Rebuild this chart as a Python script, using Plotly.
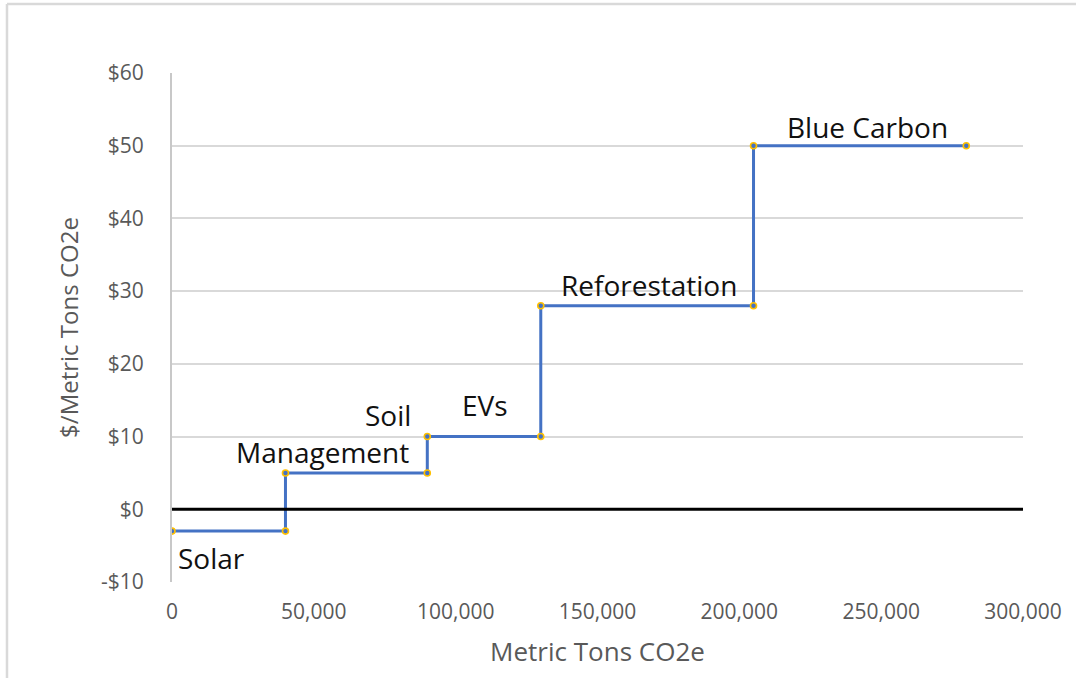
import plotly.graph_objects as go

# Step points of the marginal abatement cost curve
tons = [0, 40000, 40000, 90000, 90000, 130000, 130000, 205000, 205000, 280000]
cost = [-3, -3, 5, 5, 10, 10, 28, 28, 50, 50]

label_text = ["Solar", "Management", "Soil", "EVs", "Reforestation", "Blue Carbon"]
label_x = [14000, 52900, 76000, 110500, 168000, 245300]
label_y = [-6.7, 7.9, 13.0, 14.4, 30.8, 52.6]

y_ticks = [-10, 0, 10, 20, 30, 40, 50, 60]
y_tick_text = ["-$10", "$0", "$10", "$20", "$30", "$40", "$50", "$60"]
x_ticks = [0, 50000, 100000, 150000, 200000, 250000, 300000]
x_tick_text = ["0", "50,000", "100,000", "150,000", "200,000", "250,000", "300,000"]

FONT = "Open Sans"
GREY = "#595959"

fig = go.Figure()
fig.add_trace(go.Scatter(
    x=tons, y=cost, mode="lines+markers",
    line=dict(color="#4472C4", width=3),
    marker=dict(size=6, color="#4472C4", line=dict(color="#FFC000", width=1.6)),
    showlegend=False, hoverinfo="skip",
))

for t, x, y in zip(label_text, label_x, label_y):
    fig.add_annotation(x=x, y=y, text=t, showarrow=False,
                       font=dict(family=FONT, size=28, color="#111111"),
                       xanchor="center", yanchor="middle")

# zero line
fig.add_shape(type="line", xref="paper", x0=0, x1=1, yref="y", y0=0, y1=0,
              line=dict(color="black", width=3))
# outer chart frame (top and left edges visible)
fig.add_shape(type="line", xref="paper", yref="paper", x0=-0.1939, x1=1.08,
              y0=1.1356, y1=1.1356, line=dict(color="#D9D9D9", width=2.5))
fig.add_shape(type="line", xref="paper", yref="paper", x0=-0.1939, x1=-0.1939,
              y0=1.1356, y1=-0.2, line=dict(color="#D9D9D9", width=2.5))

fig.update_layout(
    width=1076, height=678,
    margin=dict(l=172, r=53, t=73, b=96),
    paper_bgcolor="white", plot_bgcolor="white",
    font=dict(family=FONT, color=GREY),
    xaxis=dict(range=[0, 300000], tickvals=x_ticks, ticktext=x_tick_text,
               showgrid=False, zeroline=False, showline=False,
               tickfont=dict(size=21, color=GREY), ticks="", ticklabelstandoff=15,
               title=dict(text="Metric Tons CO2e", font=dict(size=26, color=GREY), standoff=18)),
    yaxis=dict(range=[-10, 60], tickvals=y_ticks, ticktext=y_tick_text,
               showgrid=True, gridcolor="#D9D9D9", gridwidth=2,
               zeroline=False, showline=True, linecolor="#C8C8C8", linewidth=2,
               tickfont=dict(size=21, color=GREY), ticks="", ticklabelstandoff=22,
               title=dict(text="$/Metric Tons CO2e", font=dict(size=24, color=GREY), standoff=16)),
)

fig.write_html("out.html", config={"displayModeBar": False},
               post_script="document.body.style.margin='0';")
